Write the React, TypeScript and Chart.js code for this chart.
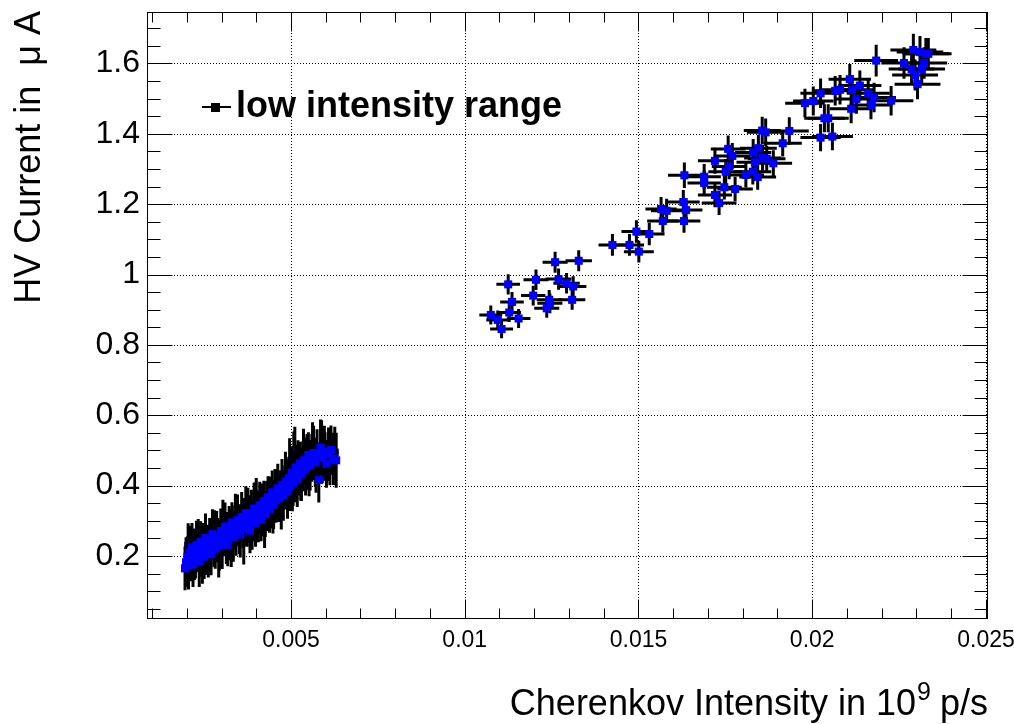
import React, { useEffect, useRef } from "react";
import { Chart, registerables } from "chart.js";

Chart.register(...registerables);

// ---------- data: low intensity cluster (core points) ----------
const lowX = [
  0.00195, 0.00198, 0.00202, 0.00205, 0.00208, 0.00212, 0.00215, 0.00218, 0.00222, 0.00225,
  0.00228, 0.00232, 0.00236, 0.0024, 0.00243, 0.00247, 0.0025, 0.00254, 0.00258, 0.00262,
  0.00266, 0.0027, 0.00274, 0.00278, 0.00282, 0.00286, 0.0029, 0.00294, 0.00298, 0.00302,
  0.00306, 0.0031, 0.00314, 0.00318, 0.00322, 0.00326, 0.0033, 0.00334, 0.00338, 0.00342,
  0.00346, 0.0035, 0.00354, 0.00358, 0.00362, 0.00366, 0.0037, 0.00374, 0.00378, 0.00382,
  0.00386, 0.0039, 0.00394, 0.00398, 0.00402, 0.00406, 0.0041, 0.00414, 0.00418, 0.00422,
  0.00426, 0.0043, 0.00434, 0.00438, 0.00442, 0.00446, 0.0045, 0.00454, 0.00458, 0.00462,
  0.00466, 0.0047, 0.00474, 0.00478, 0.00482, 0.00486, 0.0049, 0.00494, 0.00498, 0.00502,
  0.00506, 0.0051, 0.00514, 0.00518, 0.00522, 0.00526, 0.0053, 0.00534, 0.00538, 0.00542,
  0.00546, 0.0055, 0.00555, 0.0056, 0.00565, 0.0057, 0.00575, 0.0058, 0.00585, 0.0059,
  0.00596, 0.00602, 0.00608, 0.00615, 0.00622, 0.0063,
];
const lowY = [
  0.165, 0.182, 0.198, 0.172, 0.21, 0.188, 0.225, 0.176, 0.205, 0.193,
  0.232, 0.215, 0.186, 0.24, 0.207, 0.222, 0.198, 0.251, 0.229, 0.214,
  0.243, 0.205, 0.262, 0.236, 0.221, 0.255, 0.246, 0.228, 0.271, 0.239,
  0.258, 0.284, 0.249, 0.232, 0.276, 0.262, 0.295, 0.254, 0.281, 0.268,
  0.302, 0.287, 0.261, 0.311, 0.279, 0.296, 0.322, 0.288, 0.305, 0.272,
  0.318, 0.301, 0.335, 0.292, 0.326, 0.311, 0.344, 0.305, 0.331, 0.356,
  0.319, 0.342, 0.367, 0.334, 0.352, 0.381, 0.346, 0.371, 0.359, 0.392,
  0.364, 0.385, 0.402, 0.372, 0.395, 0.411, 0.383, 0.421, 0.398, 0.437,
  0.408, 0.426, 0.452, 0.417, 0.441, 0.463, 0.432, 0.455, 0.472, 0.446,
  0.468, 0.487, 0.458, 0.479, 0.493, 0.466, 0.485, 0.416, 0.508, 0.478,
  0.497, 0.462, 0.489, 0.501, 0.476, 0.472,
];
const lowEX = [
  0.00009, 0.0001, 0.00008, 0.00011, 0.00009, 0.0001, 0.00008, 0.00009, 0.00011, 0.0001,
  0.00009, 0.00008, 0.0001, 0.00011, 0.00009, 0.0001, 0.00008, 0.00011, 0.00009, 0.0001,
  0.0001, 0.00009, 0.00011, 0.00008, 0.0001, 0.00009, 0.00011, 0.0001, 0.00008, 0.00009,
  0.00011, 0.0001, 0.00009, 0.00008, 0.0001, 0.00011, 0.00009, 0.0001, 0.00008, 0.00011,
  0.00009, 0.0001, 0.00011, 0.00008, 0.0001, 0.00009, 0.00011, 0.0001, 0.00009, 0.00008,
  0.0001, 0.00011, 0.00009, 0.0001, 0.00008, 0.00011, 0.00009, 0.0001, 0.00011, 0.00009,
  0.00008, 0.0001, 0.00011, 0.00009, 0.0001, 0.00008, 0.00011, 0.0001, 0.00009, 0.00011,
  0.0001, 0.00009, 0.00008, 0.00011, 0.0001, 0.00009, 0.00011, 0.0001, 0.00008, 0.00009,
  0.00011, 0.0001, 0.00009, 0.00011, 0.00008, 0.0001, 0.00009, 0.00011, 0.0001, 0.00009,
  0.00008, 0.00011, 0.0001, 0.00009, 0.00011, 0.0001, 0.00008, 0.00009, 0.00011, 0.0001,
  0.00009, 0.00011, 0.0001, 0.00008, 0.00009, 0.00011,
];
const lowEY = [
  0.062, 0.071, 0.058, 0.067, 0.076, 0.06, 0.069, 0.064, 0.073, 0.057,
  0.068, 0.061, 0.074, 0.059, 0.066, 0.072, 0.063, 0.07, 0.058, 0.075,
  0.065, 0.06, 0.071, 0.067, 0.057, 0.073, 0.062, 0.069, 0.064, 0.076,
  0.059, 0.068, 0.072, 0.061, 0.066, 0.074, 0.058, 0.07, 0.063, 0.067,
  0.073, 0.06, 0.065, 0.071, 0.057, 0.069, 0.076, 0.062, 0.068, 0.064,
  0.07, 0.059, 0.074, 0.066, 0.061, 0.072, 0.067, 0.063, 0.075, 0.058,
  0.065, 0.071, 0.06, 0.068, 0.073, 0.062, 0.069, 0.076, 0.064, 0.07,
  0.067, 0.059, 0.074, 0.072, 0.063, 0.068, 0.077, 0.061, 0.07, 0.075,
  0.066, 0.073, 0.064, 0.078, 0.069, 0.062, 0.076, 0.071, 0.067, 0.074,
  0.079, 0.065, 0.072, 0.068, 0.077, 0.07, 0.075, 0.064, 0.08, 0.071,
  0.073, 0.068, 0.076, 0.07, 0.074, 0.078,
];

// ---------- data: low intensity cluster (points at the band edges) ----------
const lowEdgeX = [
  0.00204, 0.00217, 0.00233, 0.00245, 0.00256, 0.00268, 0.0028, 0.00292, 0.00304, 0.00316,
  0.00328, 0.0034, 0.00352, 0.00364, 0.00376, 0.00388, 0.004, 0.00412, 0.00424, 0.00436,
  0.00448, 0.0046, 0.00472, 0.00484, 0.00496, 0.00504, 0.00508, 0.00511, 0.0052, 0.00528,
  0.00536, 0.00544, 0.00552, 0.00562, 0.00572, 0.00588, 0.00598, 0.00612, 0.00626,
];
const lowEdgeY = [
  0.229, 0.201, 0.245, 0.19, 0.212, 0.228, 0.268, 0.21, 0.292, 0.266,
  0.242, 0.312, 0.276, 0.252, 0.331, 0.285, 0.35, 0.324, 0.298, 0.357,
  0.33, 0.374, 0.352, 0.428, 0.462, 0.392, 0.475, 0.497, 0.455, 0.424,
  0.486, 0.461, 0.438, 0.502, 0.451, 0.511, 0.483, 0.478, 0.494,
];
const lowEdgeEX = [
  0.0001, 0.00009, 0.00011, 0.00008, 0.0001, 0.00009, 0.00011, 0.0001, 0.00009, 0.00008,
  0.00011, 0.0001, 0.00009, 0.00011, 0.0001, 0.00008, 0.00009, 0.00011, 0.0001, 0.00009,
  0.00008, 0.00011, 0.0001, 0.00009, 0.00011, 0.0001, 0.00008, 0.00009, 0.00011, 0.0001,
  0.00009, 0.00011, 0.0001, 0.00008, 0.00009, 0.00011, 0.0001, 0.00009, 0.00011,
];
const lowEdgeEY = [
  0.064, 0.072, 0.06, 0.069, 0.066, 0.074, 0.062, 0.071, 0.068, 0.059,
  0.073, 0.065, 0.07, 0.076, 0.063, 0.067, 0.072, 0.06, 0.075, 0.069,
  0.066, 0.071, 0.077, 0.068, 0.073, 0.065, 0.079, 0.07, 0.074, 0.067,
  0.076, 0.072, 0.068, 0.078, 0.071, 0.075, 0.069, 0.077, 0.073,
];

// ---------- data: higher intensity points ----------
const highX = [
  0.01425, 0.0126, 0.01328, 0.01125, 0.01205, 0.0127, 0.01293, 0.01312, 0.01136, 0.01197,
  0.01243, 0.01245, 0.01309, 0.01236, 0.01075, 0.01128, 0.01155, 0.01095, 0.01106,
  0.01474, 0.01501, 0.01494, 0.01531, 0.0157, 0.01631, 0.01565, 0.01581, 0.01629, 0.01637,
  0.01632, 0.01689, 0.01689, 0.0172, 0.01732, 0.01747, 0.01778, 0.0172, 0.01751, 0.01761,
  0.0177, 0.01809, 0.01829, 0.01843, 0.01835, 0.0183, 0.01857, 0.01869, 0.01888, 0.01758,
  0.01845, 0.01856, 0.01866, 0.01915, 0.01934,
  0.02024, 0.02058, 0.02035, 0.02046, 0.02112, 0.01979, 0.02003, 0.02024, 0.02066, 0.0208,
  0.02115, 0.02108, 0.02137, 0.02127, 0.02161, 0.02178, 0.02169, 0.02227, 0.02184, 0.02264,
  0.02291, 0.0231, 0.02327, 0.02334, 0.02322, 0.02286, 0.02315, 0.02296, 0.02303,
];
const highY = [
  1.084, 1.035, 1.039, 0.972, 0.985, 0.987, 0.975, 0.966, 0.922, 0.94,
  0.928, 0.918, 0.928, 0.904, 0.885, 0.892, 0.875, 0.871, 0.845,
  1.084, 1.065, 1.122, 1.115, 1.152, 1.152, 1.186, 1.181, 1.206, 1.183,
  1.282, 1.278, 1.26, 1.226, 1.203, 1.248, 1.243, 1.323, 1.292, 1.307,
  1.337, 1.283, 1.292, 1.277, 1.319, 1.347, 1.331, 1.329, 1.316, 1.357,
  1.359, 1.409, 1.404, 1.373, 1.408,
  1.389, 1.392, 1.444, 1.444, 1.471, 1.487, 1.493, 1.515, 1.522, 1.525,
  1.525, 1.555, 1.537, 1.499, 1.515, 1.503, 1.482, 1.494, 1.608, 1.601,
  1.638, 1.632, 1.627, 1.627, 1.601, 1.584, 1.584, 1.567, 1.541,
];
const highEX = [
  0.0004, 0.00036, 0.00038, 0.00034, 0.00036, 0.00037, 0.00038, 0.00038, 0.00034, 0.00035,
  0.00036, 0.00036, 0.00038, 0.00036, 0.00033, 0.00034, 0.00034, 0.00033, 0.00033,
  0.00042, 0.00043, 0.00043, 0.00044, 0.00045, 0.00047, 0.00045, 0.00045, 0.00047, 0.00047,
  0.00047, 0.00048, 0.00048, 0.00049, 0.0005, 0.0005, 0.00051, 0.00049, 0.0005, 0.0005,
  0.00051, 0.00052, 0.00053, 0.00053, 0.00053, 0.00052, 0.00053, 0.00054, 0.00054, 0.0005,
  0.00053, 0.00053, 0.00054, 0.00055, 0.00056,
  0.00058, 0.00059, 0.00058, 0.00059, 0.00061, 0.00057, 0.00058, 0.00058, 0.0006, 0.0006,
  0.00061, 0.00061, 0.00062, 0.00061, 0.00062, 0.00063, 0.00062, 0.00064, 0.00063, 0.00065,
  0.00066, 0.00067, 0.00067, 0.00067, 0.00066, 0.00066, 0.00067, 0.00066, 0.00066,
];
const highEY = [
  0.031, 0.03, 0.03, 0.029, 0.029, 0.03, 0.029, 0.029, 0.028, 0.028,
  0.028, 0.028, 0.028, 0.027, 0.027, 0.027, 0.027, 0.027, 0.026,
  0.031, 0.031, 0.032, 0.032, 0.033, 0.033, 0.034, 0.034, 0.034, 0.034,
  0.036, 0.036, 0.035, 0.035, 0.034, 0.035, 0.035, 0.037, 0.036, 0.036,
  0.037, 0.036, 0.036, 0.036, 0.037, 0.038, 0.037, 0.037, 0.037, 0.038,
  0.038, 0.039, 0.039, 0.038, 0.039,
  0.039, 0.039, 0.04, 0.04, 0.041, 0.041, 0.041, 0.042, 0.042, 0.042,
  0.042, 0.043, 0.043, 0.042, 0.042, 0.042, 0.041, 0.042, 0.045, 0.045,
  0.046, 0.046, 0.045, 0.045, 0.045, 0.044, 0.044, 0.044, 0.043,
];

// ---------- axes ----------
const X_MIN = 0.000856;
const X_MAX = 0.025058;
const Y_MIN = 0.021;
const Y_MAX = 1.746;
const xTickValues = [0.005, 0.01, 0.015, 0.02, 0.025];
const xTickLabels = ["0.005", "0.01", "0.015", "0.02", "0.025"];
const yTickValues = [0.2, 0.4, 0.6, 0.8, 1.0, 1.2, 1.4, 1.6];
const yTickLabels = ["0.2", "0.4", "0.6", "0.8", "1", "1.2", "1.4", "1.6"];
const xMinorTicks = [
  0.001, 0.002, 0.003, 0.004, 0.006, 0.007, 0.008, 0.009, 0.011, 0.012, 0.013, 0.014,
  0.016, 0.017, 0.018, 0.019, 0.021, 0.022, 0.023, 0.024,
];
const yMinorTicks = [
  0.05, 0.1, 0.15, 0.25, 0.3, 0.35, 0.45, 0.5, 0.55, 0.65, 0.7, 0.75, 0.85, 0.9, 0.95,
  1.05, 1.1, 1.15, 1.25, 1.3, 1.35, 1.45, 1.5, 1.55, 1.65, 1.7,
];
const xTitleMain = "Cherenkov Intensity in 10";
const xTitleSup = "9";
const xTitleTail = " p/s";
const yTitle = "HV Current in  \u03bc A";
const legendLabel = "low intensity range";

const FONT = '"Liberation Sans", Arial, Helvetica, sans-serif';
const MARKER_COLOR = "#0000ff";

const W = 1014;
const H = 724;
const AREA = { left: 147, top: 12, right: 988, bottom: 619 };

const gridPlugin = {
  id: "rootGrid",
  beforeDatasetsDraw(chart: any) {
    const { ctx, chartArea: a, scales } = chart;
    const x = scales.x;
    const y = scales.y;
    ctx.save();
    ctx.strokeStyle = "#000";
    ctx.lineWidth = 1;
    ctx.setLineDash([1, 2]);
    ctx.beginPath();
    for (const v of xTickValues) {
      const px = Math.round(x.getPixelForValue(v)) + 0.5;
      ctx.moveTo(px, a.top);
      ctx.lineTo(px, a.bottom);
    }
    for (const v of yTickValues) {
      const py = Math.round(y.getPixelForValue(v)) + 0.5;
      ctx.moveTo(a.left, py);
      ctx.lineTo(a.right, py);
    }
    ctx.stroke();
    ctx.restore();
  },
};

// error bars of each dataset are drawn just before that dataset's markers
const errorBarPlugin = {
  id: "errorBars",
  beforeDatasetDraw(chart: any, args: any) {
    const { ctx, chartArea: a, scales } = chart;
    const x = scales.x;
    const y = scales.y;
    const ds = chart.data.datasets[args.index];
    const ex = ds.errX as number[];
    const ey = ds.errY as number[];
    ctx.save();
    ctx.beginPath();
    ctx.rect(a.left, a.top, a.right - a.left, a.bottom - a.top);
    ctx.clip();
    ctx.strokeStyle = "#000";
    ctx.lineWidth = 3;
    ds.data.forEach((p: any, i: number) => {
      const px = x.getPixelForValue(p.x);
      const py = y.getPixelForValue(p.y);
      ctx.beginPath();
      ctx.moveTo(x.getPixelForValue(p.x - ex[i]), py);
      ctx.lineTo(x.getPixelForValue(p.x + ex[i]), py);
      ctx.moveTo(px, y.getPixelForValue(p.y - ey[i]));
      ctx.lineTo(px, y.getPixelForValue(p.y + ey[i]));
      ctx.stroke();
    });
    ctx.restore();
  },
};

const framePlugin = {
  id: "rootFrame",
  afterDatasetsDraw(chart: any) {
    const { ctx, chartArea: a, scales } = chart;
    const x = scales.x;
    const y = scales.y;
    const L = Math.round(a.left) + 0.5;
    const R = Math.round(a.right) - 0.5;
    const T = Math.round(a.top) + 0.5;
    const B = Math.round(a.bottom) - 0.5;
    ctx.save();
    ctx.strokeStyle = "#000";
    ctx.lineWidth = 1;
    ctx.setLineDash([]);
    ctx.strokeRect(L, T, R - L, B - T);
    ctx.beginPath();
    const xt = (v: number, len: number) => {
      const px = Math.round(x.getPixelForValue(v)) + 0.5;
      ctx.moveTo(px, B);
      ctx.lineTo(px, B - len);
      ctx.moveTo(px, T);
      ctx.lineTo(px, T + len);
    };
    const yt = (v: number, len: number) => {
      const py = Math.round(y.getPixelForValue(v)) + 0.5;
      ctx.moveTo(L, py);
      ctx.lineTo(L + len, py);
      ctx.moveTo(R, py);
      ctx.lineTo(R - len, py);
    };
    xTickValues.forEach((v) => xt(v, 19));
    xMinorTicks.forEach((v) => xt(v, 10));
    yTickValues.forEach((v) => yt(v, 25));
    yMinorTicks.forEach((v) => yt(v, 13));
    ctx.stroke();
    ctx.restore();
  },
};

const textPlugin = {
  id: "rootText",
  afterDraw(chart: any) {
    const { ctx } = chart;
    ctx.save();
    ctx.fillStyle = "#000";
    ctx.textBaseline = "alphabetic";

    // x title, right aligned at the end of the axis
    const fs = 36;
    ctx.font = `${fs}px ${FONT}`;
    const wMain = ctx.measureText(xTitleMain).width;
    const wTail = ctx.measureText(xTitleTail).width;
    ctx.font = `${Math.round(fs * 0.7)}px ${FONT}`;
    const wSup = ctx.measureText(xTitleSup).width;
    const base = 715;
    let cx = AREA.right - (wMain + wSup + wTail);
    ctx.font = `${fs}px ${FONT}`;
    ctx.textAlign = "left";
    ctx.fillText(xTitleMain, cx, base);
    cx += wMain;
    ctx.font = `${Math.round(fs * 0.7)}px ${FONT}`;
    ctx.fillText(xTitleSup, cx + 1, base - fs * 0.42);
    cx += wSup;
    ctx.font = `${fs}px ${FONT}`;
    ctx.fillText(xTitleTail, cx, base);

    // y title, rotated, right aligned at top of axis
    ctx.save();
    ctx.translate(40, 11);
    ctx.rotate(-Math.PI / 2);
    ctx.textAlign = "right";
    ctx.font = `${fs}px ${FONT}`;
    ctx.fillText(yTitle, 0, 0);
    ctx.restore();

    // legend
    ctx.strokeStyle = "#000";
    ctx.lineWidth = 2;
    ctx.beginPath();
    ctx.moveTo(202, 107);
    ctx.lineTo(231, 107);
    ctx.stroke();
    ctx.fillRect(211, 103, 9, 9);
    ctx.font = `bold 36px ${FONT}`;
    ctx.textAlign = "left";
    ctx.fillText(legendLabel, 236, 117);
    ctx.restore();
  },
};

export default function App() {
  const canvasRef = useRef<HTMLCanvasElement | null>(null);

  useEffect(() => {
    const canvas = canvasRef.current;
    if (!canvas) return;
    const toPoints = (xs: number[], ys: number[]) => xs.map((v, i) => ({ x: v, y: ys[i] }));
    const pointStyle = {
      pointStyle: "rect",
      pointRadius: 5.7,
      pointHoverRadius: 5.7,
      backgroundColor: MARKER_COLOR,
      borderWidth: 0,
      showLine: false,
    };
    const chart = new Chart(canvas, {
      type: "scatter",
      data: {
        datasets: [
          { label: legendLabel, data: toPoints(lowX, lowY), errX: lowEX, errY: lowEY, ...pointStyle } as any,
          { label: "edge", data: toPoints(lowEdgeX, lowEdgeY), errX: lowEdgeEX, errY: lowEdgeEY, ...pointStyle } as any,
          { label: "high", data: toPoints(highX, highY), errX: highEX, errY: highEY, ...pointStyle } as any,
        ],
      },
      options: {
        animation: false,
        responsive: false,
        devicePixelRatio: 1,
        layout: { padding: { left: 0, top: AREA.top, right: W - AREA.right, bottom: 0 } },
        plugins: { legend: { display: false }, tooltip: { enabled: false } },
        scales: {
          x: {
            type: "linear",
            min: X_MIN,
            max: X_MAX,
            grid: { display: false, drawTicks: false },
            border: { display: false },
            ticks: {
              padding: 8,
              color: "#000",
              font: { family: FONT, size: 23 },
              autoSkip: false,
              maxRotation: 0,
              callback: (_v: any, i: number) => xTickLabels[i],
            },
            afterBuildTicks: (s: any) => {
              s.ticks = xTickValues.map((v) => ({ value: v }));
            },
            afterFit: (s: any) => {
              s.height = H - AREA.bottom;
              s.paddingLeft = 0;
              s.paddingRight = 0;
            },
          },
          y: {
            type: "linear",
            min: Y_MIN,
            max: Y_MAX,
            grid: { display: false, drawTicks: false },
            border: { display: false },
            ticks: {
              padding: 7,
              color: "#000",
              font: { family: FONT, size: 32 },
              autoSkip: false,
              callback: (_v: any, i: number) => yTickLabels[i],
            },
            afterBuildTicks: (s: any) => {
              s.ticks = yTickValues.map((v) => ({ value: v }));
            },
            afterFit: (s: any) => {
              s.width = AREA.left;
              s.paddingTop = 0;
              s.paddingBottom = 0;
            },
          },
        },
      } as any,
      plugins: [gridPlugin, errorBarPlugin, framePlugin, textPlugin],
    });
    return () => chart.destroy();
  }, []);

  return (
    <div style={{ position: "fixed", left: 0, top: 0, width: W, height: H, background: "#fff" }}>
      <canvas ref={canvasRef} width={W} height={H} style={{ display: "block" }} />
    </div>
  );
}
